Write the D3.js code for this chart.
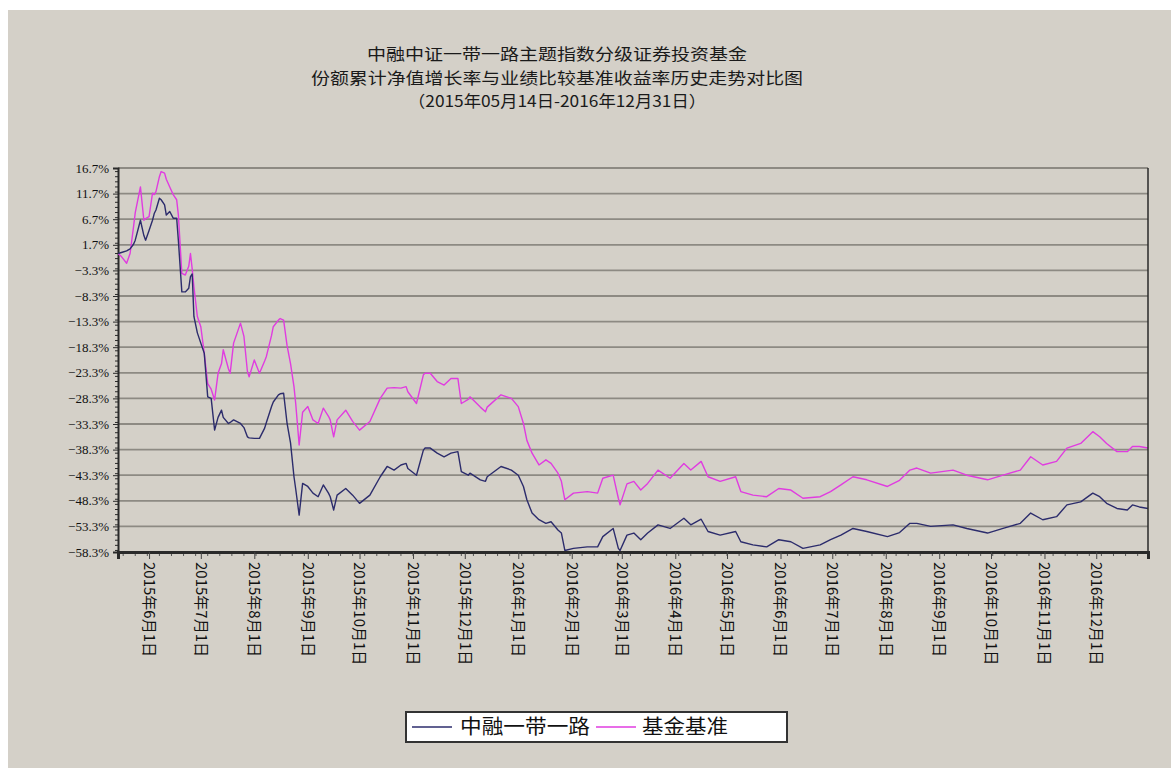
<!DOCTYPE html>
<html>
<head>
<meta charset="utf-8">
<script src="https://cdn.jsdelivr.net/npm/d3@7"></script>
<style>
  body { margin: 0; background: #fff; }
  svg { display: block; font-family: "Noto Sans CJK SC", sans-serif; }
</style>
</head>
<body>
<script>
// chart data
const titleLines = [
  "中融中证一带一路主题指数分级证券投资基金",
  "份额累计净值增长率与业绩比较基准收益率历史走势对比图",
  "（2015年05月14日-2016年12月31日）"
];
const seriesNames = ["中融一带一路", "基金基准"];

const dates = [
  "2015-05-14","2015-05-16","2015-05-19","2015-05-21","2015-05-23","2015-05-24","2015-05-27","2015-05-29","2015-05-30",
  "2015-06-01","2015-06-03","2015-06-04","2015-06-05","2015-06-07","2015-06-08","2015-06-10","2015-06-11","2015-06-13",
  "2015-06-15","2015-06-17","2015-06-18","2015-06-20","2015-06-22","2015-06-24","2015-06-25","2015-06-26","2015-06-27",
  "2015-06-29","2015-07-01","2015-07-03","2015-07-05","2015-07-07","2015-07-09","2015-07-11","2015-07-13","2015-07-14",
  "2015-07-17","2015-07-18","2015-07-20","2015-07-24","2015-07-26","2015-07-28","2015-07-29","2015-08-01","2015-08-04",
  "2015-08-07","2015-08-08","2015-08-11","2015-08-12","2015-08-15","2015-08-16","2015-08-18","2015-08-20","2015-08-22",
  "2015-08-24","2015-08-25","2015-08-27","2015-08-29","2015-09-01","2015-09-04","2015-09-07","2015-09-10","2015-09-13",
  "2015-09-14","2015-09-16","2015-09-18","2015-09-23","2015-09-27","2015-10-01","2015-10-07","2015-10-13","2015-10-17",
  "2015-10-21","2015-10-25","2015-10-28","2015-10-29","2015-11-03","2015-11-07","2015-11-08","2015-11-11","2015-11-15",
  "2015-11-19","2015-11-23","2015-11-27","2015-11-29","2015-12-03","2015-12-04","2015-12-10","2015-12-13","2015-12-14",
  "2015-12-22","2015-12-28","2016-01-01","2016-01-04","2016-01-06","2016-01-09","2016-01-13","2016-01-17","2016-01-20",
  "2016-01-24","2016-01-26","2016-01-28","2016-02-02","2016-02-10","2016-02-16","2016-02-19","2016-02-25","2016-02-28",
  "2016-02-29","2016-03-04","2016-03-08","2016-03-12","2016-03-16","2016-03-22","2016-03-29","2016-04-06","2016-04-10",
  "2016-04-16","2016-04-20","2016-04-27","2016-05-06","2016-05-09","2016-05-16","2016-05-24","2016-05-31","2016-06-07",
  "2016-06-14","2016-06-24","2016-06-30","2016-07-06","2016-07-13","2016-07-21","2016-08-02","2016-08-09","2016-08-15",
  "2016-08-19","2016-08-27","2016-09-09","2016-09-17","2016-09-29","2016-10-08","2016-10-18","2016-10-24","2016-10-31",
  "2016-11-08","2016-11-14","2016-11-22","2016-11-29","2016-12-03","2016-12-07","2016-12-13","2016-12-19","2016-12-22",
  "2016-12-26","2016-12-31"
];

const fundValues = [
  0.0, 0.2, 0.5, 0.9, 1.8, 2.6, 6.5, 3.5, 2.6,
  4.5, 6.5, 7.8, 8.5, 10.8, 10.5, 9.5, 7.5, 8.2,
  6.9, 6.9, 2.5, -7.5, -7.5, -6.8, -4.5, -4.0, -12.3,
  -15.5, -17.5, -19.5, -28.0, -28.3, -34.5, -32.0, -30.6, -32.0,
  -33.2, -33.0, -32.5, -33.2, -34.0, -35.8, -36.0, -36.1, -36.1,
  -34.1, -33.0, -29.9, -29.0, -27.6, -27.4, -27.3, -33.2, -37.0,
  -43.6, -46.0, -51.1, -44.9, -45.5, -46.8, -47.5, -45.2, -46.8,
  -47.5, -50.1, -47.2, -45.9, -47.2, -48.8, -47.2, -43.6, -41.6,
  -42.3, -41.3, -41.0, -42.0, -43.3, -38.4, -38.0, -38.0, -39.0,
  -39.7, -39.0, -38.7, -42.6, -43.3, -42.9, -44.2, -44.5, -43.6,
  -41.6, -42.3, -43.3, -45.5, -48.1, -50.7, -52.0, -52.7, -52.4,
  -54.0, -54.6, -58.0, -57.6, -57.3, -57.3, -55.3, -53.7, -57.6,
  -58.0, -55.0, -54.6, -55.9, -54.6, -53.0, -53.7, -51.7, -53.0,
  -51.9, -54.3, -55.0, -54.3, -56.3, -56.9, -57.3, -55.9, -56.3,
  -57.6, -56.9, -55.9, -55.0, -53.7, -54.3, -55.3, -54.5, -52.7,
  -52.7, -53.3, -53.0, -53.7, -54.6, -53.7, -52.7, -50.7, -52.0,
  -51.4, -49.1, -48.5, -46.8, -47.5, -48.8, -49.8, -50.1, -49.1,
  -49.5, -49.8
];

const benchValues = [
  0.0, -0.6, -1.9, 0.0, 5.2, 8.0, 13.0, 6.5, 6.8,
  7.2, 11.8, 11.5, 12.1, 15.0, 16.0, 15.7, 14.5, 13.0,
  11.5, 10.5, 7.5, -3.9, -4.2, -2.5, 0.0, -3.0, -6.5,
  -12.3, -14.3, -19.5, -25.4, -26.5, -28.6, -23.4, -21.5, -18.8,
  -22.5, -23.4, -17.5, -13.6, -16.2, -23.0, -24.1, -20.8, -23.4,
  -21.0, -20.1, -16.0, -14.3, -13.0, -12.7, -13.0, -18.0, -21.5,
  -26.0, -29.3, -37.4, -31.0, -29.9, -32.5, -33.2, -30.2, -31.8,
  -32.5, -35.8, -32.5, -30.6, -32.8, -34.5, -32.8, -28.3, -26.3,
  -26.2, -26.3, -26.0, -27.0, -29.3, -23.7, -23.4, -23.4, -25.0,
  -25.7, -24.4, -24.4, -29.3, -28.5, -28.0, -30.0, -30.9, -30.0,
  -27.6, -28.3, -29.9, -33.2, -36.5, -39.0, -41.3, -40.3, -41.0,
  -42.9, -44.5, -48.1, -46.8, -46.5, -46.8, -43.9, -43.3, -47.8,
  -49.1, -45.0, -44.5, -46.2, -44.9, -42.3, -43.9, -41.0, -42.3,
  -40.6, -43.6, -44.5, -43.6, -46.5, -47.2, -47.5, -45.9, -46.2,
  -47.8, -47.5, -46.5, -45.2, -43.6, -44.2, -45.5, -44.3, -42.3,
  -41.9, -42.9, -42.3, -43.3, -44.2, -43.3, -42.3, -39.7, -41.3,
  -40.6, -38.0, -37.1, -34.8, -35.8, -37.1, -38.7, -38.7, -37.7,
  -37.7, -38.0
];

const yTicks = [16.7, 11.7, 6.7, 1.7, -3.3, -8.3, -13.3, -18.3, -23.3, -28.3, -33.3, -38.3, -43.3, -48.3, -53.3, -58.3];
const monthTicks = [
  "2015-06-01","2015-07-01","2015-08-01","2015-09-01","2015-10-01","2015-11-01","2015-12-01",
  "2016-01-01","2016-02-01","2016-03-01","2016-04-01","2016-05-01","2016-06-01","2016-07-01",
  "2016-08-01","2016-09-01","2016-10-01","2016-11-01","2016-12-01"
];
const dateRange = ["2015-05-14", "2016-12-31"];

const colors = { fund: "#2c2c6c", bench: "#e03ce0", bg: "#d4d0c8", grid: "#8d8a83", axis: "#2a2a2a" };

const W = 1171, H = 768;
const plot = { left: 118, right: 1148, top: 168, bottom: 552 };
const parse = d3.timeParse("%Y-%m-%d");

const svg = d3.select("body").append("svg")
  .attr("width", W).attr("height", H);

svg.append("rect").attr("width", W).attr("height", H).attr("fill", "#fff");
svg.append("rect").attr("x", 8).attr("y", 10).attr("width", W - 8).attr("height", H - 10).attr("fill", colors.bg);

// scales
const x = d3.scaleTime()
  .domain(dateRange.map(parse))
  .range([plot.left, plot.right]);
const y = d3.scaleLinear()
  .domain([yTicks[yTicks.length - 1], yTicks[0]])
  .range([plot.bottom, plot.top]);

// title
svg.append("g").selectAll("text")
  .data(titleLines)
  .join("text")
  .attr("x", 557)
  .attr("y", (d, i) => [60, 84, 107][i])
  .attr("text-anchor", "middle")
  .attr("font-size", 16)
  .attr("fill", "#1a1a1a")
  .attr("textLength", (d, i) => [380, 492, 298][i])
  .attr("lengthAdjust", "spacingAndGlyphs")
  .text(d => d);

// gridlines
svg.append("g").selectAll("line")
  .data(yTicks)
  .join("line")
  .attr("x1", plot.left).attr("x2", plot.right)
  .attr("y1", d => y(d)).attr("y2", d => y(d))
  .attr("stroke", colors.grid)
  .attr("stroke-width", 1.8);

// y axis
const yAxis = svg.append("g")
  .attr("transform", `translate(${plot.left},0)`)
  .call(d3.axisLeft(y).tickValues(yTicks).tickSize(5).tickPadding(4)
    .tickFormat(d => d3.format(".1f")(d) + "%"));
yAxis.select(".domain").attr("stroke", colors.axis).attr("stroke-width", 2);
yAxis.selectAll(".tick line").attr("stroke", colors.axis);
yAxis.selectAll(".tick text")
  .attr("font-family", "'Liberation Serif', serif")
  .attr("font-size", 13).attr("fill", "#111");

// minor y ticks every 1%
const yMinor = d3.scaleLinear().domain(y.domain()).ticks(75);
svg.append("g").selectAll("line")
  .data(yMinor)
  .join("line")
  .attr("x1", plot.left - 3).attr("x2", plot.left)
  .attr("y1", d => y(d)).attr("y2", d => y(d))
  .attr("stroke", colors.axis).attr("stroke-width", 1);

// lines
svg.append("clipPath").attr("id", "clip")
  .append("rect")
  .attr("x", plot.left).attr("y", plot.top - 2)
  .attr("width", plot.right - plot.left).attr("height", plot.bottom - plot.top + 2);

const line = d3.line()
  .x((d, i) => x(parse(dates[i])))
  .y(d => y(d));

const lines = svg.append("g").attr("clip-path", "url(#clip)");
lines.append("path")
  .datum(benchValues)
  .attr("fill", "none")
  .attr("stroke", colors.bench)
  .attr("stroke-width", 1.4)
  .attr("stroke-linejoin", "round")
  .attr("d", line);
lines.append("path")
  .datum(fundValues)
  .attr("fill", "none")
  .attr("stroke", colors.fund)
  .attr("stroke-width", 1.4)
  .attr("stroke-linejoin", "round")
  .attr("d", line);

// right border
svg.append("line")
  .attr("x1", plot.right).attr("x2", plot.right)
  .attr("y1", plot.top).attr("y2", plot.bottom)
  .attr("stroke", colors.axis).attr("stroke-width", 1.5);

// x axis: weekly minor ticks, monthly labels
svg.append("g").selectAll("line")
  .data(d3.timeWeek.range(...dateRange.map(parse)))
  .join("line")
  .attr("x1", d => x(d)).attr("x2", d => x(d))
  .attr("y1", plot.bottom).attr("y2", plot.bottom + 4)
  .attr("stroke", "#555").attr("stroke-width", 1);

const xAxis = svg.append("g")
  .attr("transform", `translate(0,${plot.bottom})`)
  .call(d3.axisBottom(x).tickValues(monthTicks.map(parse)).tickSize(7).tickFormat(() => ""));
xAxis.select(".domain").attr("stroke", colors.axis).attr("stroke-width", 3);
xAxis.selectAll(".tick line").attr("stroke", "#444");

const fmtLabel = d3.timeFormat("%Y年%-m月%-d日");
svg.append("g").selectAll("text")
  .data(monthTicks.map(parse))
  .join("text")
  .attr("transform", d => `translate(${x(d)},562) rotate(90)`)
  .attr("dy", "0.35em")
  .attr("font-size", 15)
  .attr("fill", "#111")
  .text(d => fmtLabel(d));

// legend
const legend = svg.append("g");
legend.append("rect")
  .attr("x", 406).attr("y", 712).attr("width", 381).attr("height", 30)
  .attr("fill", "#fff").attr("stroke", "#333").attr("stroke-width", 2);
const legendItems = [
  { name: seriesNames[0], color: colors.fund, x0: 412, tx: 460, len: 130 },
  { name: seriesNames[1], color: colors.bench, x0: 596, tx: 642, len: 86 }
];
legendItems.forEach(it => {
  legend.append("line")
    .attr("x1", it.x0).attr("x2", it.x0 + 40)
    .attr("y1", 727).attr("y2", 727)
    .attr("stroke", it.color).attr("stroke-width", 1.5);
  legend.append("text")
    .attr("x", it.tx).attr("y", 734)
    .attr("font-size", 20)
    .attr("fill", "#111")
    .attr("textLength", it.len)
    .attr("lengthAdjust", "spacingAndGlyphs")
    .text(it.name);
});
</script>
</body>
</html>
